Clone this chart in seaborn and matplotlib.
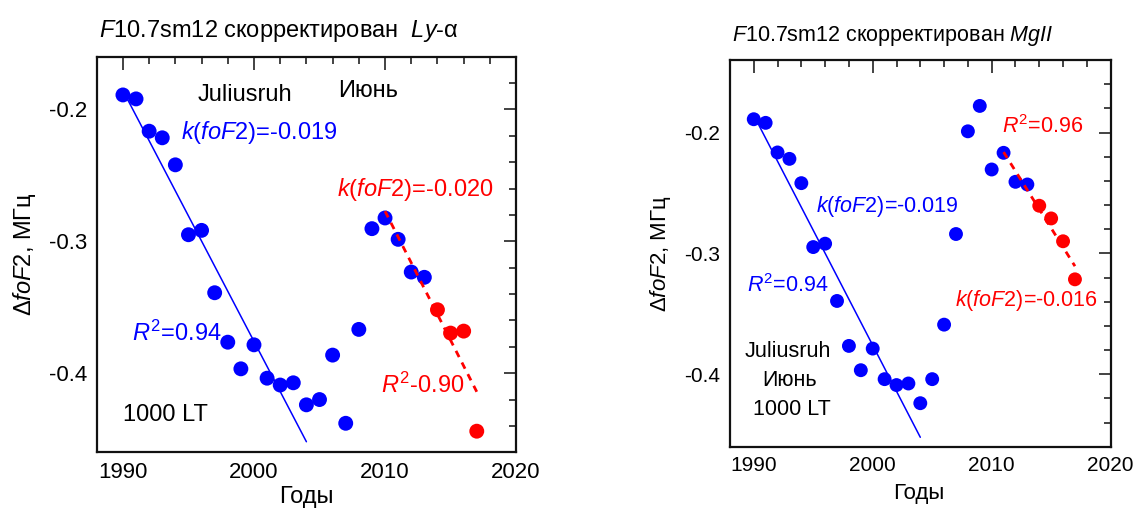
import numpy as np
import pandas as pd
import matplotlib.pyplot as plt
import seaborn as sns
from matplotlib.ticker import MultipleLocator

sns.set_style("white")
plt.rcParams["font.family"] = ["Liberation Sans", "DejaVu Sans"]
plt.rcParams["mathtext.fontset"] = "custom"
plt.rcParams["mathtext.rm"] = "Liberation Sans"
plt.rcParams["mathtext.it"] = "Liberation Sans:italic"
plt.rcParams["text.color"] = "black"
plt.rcParams["axes.labelcolor"] = "black"
plt.rcParams["xtick.color"] = "black"
plt.rcParams["ytick.color"] = "black"

BLUE = "#0000ff"
RED = "#ff0000"

# data
years = [1990, 1991, 1992, 1993, 1994, 1995, 1996, 1997, 1998, 1999,
         2000, 2001, 2002, 2003, 2004, 2005, 2006, 2007, 2008, 2009,
         2010, 2011, 2012, 2013, 2014, 2015, 2016, 2017]
dfof2_ly_alpha = [-0.189, -0.192, -0.2165, -0.2215, -0.242, -0.295, -0.2917, -0.339, -0.3765, -0.3967,
                  -0.3785, -0.4038, -0.409, -0.4073, -0.424, -0.420, -0.3863, -0.438, -0.3668, -0.2904,
                  -0.2823, -0.2985, -0.3233, -0.3273, -0.3519, -0.3696, -0.3681, -0.444]
dfof2_mgii = [-0.189, -0.192, -0.2165, -0.2218, -0.2419, -0.2948, -0.292, -0.3394, -0.3766, -0.3967,
              -0.3788, -0.4041, -0.409, -0.4077, -0.424, -0.4041, -0.359, -0.284, -0.199, -0.178,
              -0.2306, -0.2168, -0.2408, -0.243, -0.2606, -0.2711, -0.290, -0.3215]
red_years = [2014, 2015, 2016, 2017]

blue_fit = (1990, 2004)
red_fit_ly = (2010, 2017)
red_fit_mg = (2011, 2017)


def draw_panel(ax, values, red_fit, ylim, fs, msize):
    df = pd.DataFrame({"year": years, "dfof2": values})
    df["group"] = np.where(df["year"].isin(red_years), "red", "blue")

    sub = df[(df["year"] >= blue_fit[0]) & (df["year"] <= blue_fit[1])]
    sns.regplot(data=sub, x="year", y="dfof2", scatter=False, ci=None, truncate=True,
                color=BLUE, line_kws=dict(lw=1.1, zorder=1), ax=ax)
    sns.scatterplot(data=df, x="year", y="dfof2", hue="group",
                    palette={"blue": BLUE, "red": RED}, s=msize, linewidth=0,
                    legend=False, zorder=2, ax=ax)
    sub = df[(df["year"] >= red_fit[0]) & (df["year"] <= red_fit[1])]
    sns.regplot(data=sub, x="year", y="dfof2", scatter=False, ci=None, truncate=True,
                color=RED, line_kws=dict(lw=2, dashes=(2.5, 2.2), zorder=3), ax=ax)

    ax.set_xlim(1988, 2020)
    ax.set_ylim(*ylim)
    ax.xaxis.set_major_locator(MultipleLocator(10))
    ax.xaxis.set_minor_locator(MultipleLocator(2))
    ax.yaxis.set_major_locator(MultipleLocator(0.1))
    ax.yaxis.set_minor_locator(MultipleLocator(0.02))
    ax.yaxis.set_major_formatter(lambda v, p: f"{v:.1f}")
    ax.tick_params(which="both", direction="in", top=True, right=True, labelsize=fs,
                   width=1.2, color="#222222")
    ax.tick_params(which="major", length=9, pad=7)
    ax.tick_params(which="minor", length=5)
    for sp in ax.spines.values():
        sp.set_linewidth(1.6)
        sp.set_color("#111111")
    ax.set_xlabel("Годы", fontsize=fs + 1)
    ax.set_ylabel(r"$\Delta$$\mathit{foF}$2, МГц", fontsize=fs + 1)


fig = plt.figure(figsize=(11.34, 5.09), dpi=100)
ax1 = fig.add_axes([0.0853, 0.1114, 0.3698, 0.7772])
ax2 = fig.add_axes([0.6437, 0.1224, 0.3357, 0.7597])

# left panel: Ly-alpha
draw_panel(ax1, dfof2_ly_alpha, red_fit_ly, (-0.46, -0.16), 16, 115)
ax1.set_title(r"$\mathit{F}$10.7sm12 скорректирован  $\mathit{Ly}$-$\mathrm{\alpha}$",
              loc="left", fontsize=17, pad=14, x=0.005)
ax1.xaxis.set_label_coords(0.5, -0.085)
ax1.yaxis.set_label_coords(-0.14, 0.5)
ax1.text(1999.3, -0.189, "Juliusruh", fontsize=17, ha="center", va="center")
ax1.text(2008.7, -0.186, "Июнь", fontsize=17, ha="center", va="center")
ax1.text(1994.4, -0.2177, r"$\mathit{k}$($\mathit{foF}$2)=-0.019", fontsize=17,
         color=BLUE, ha="left", va="center")
ax1.text(2006.3, -0.261, r"$\mathit{k}$($\mathit{foF}$2)=-0.020", fontsize=17,
         color=RED, ha="left", va="center")
ax1.text(1990.7, -0.370, r"$\mathit{R}^2$=0.94", fontsize=17, color=BLUE, ha="left", va="center")
ax1.text(2009.7, -0.409, r"$\mathit{R}^2$-0.90", fontsize=17, color=RED, ha="left", va="center")
ax1.text(1990.0, -0.4317, "1000 LT", fontsize=17, ha="left", va="center")

# right panel: MgII
draw_panel(ax2, dfof2_mgii, red_fit_mg, (-0.46, -0.14), 15, 100)
ax2.set_title(r"$\mathit{F}$10.7sm12 скорректирован $\mathit{MgII}$",
              loc="left", fontsize=15.5, pad=14, x=0.005)
ax2.xaxis.set_label_coords(0.496, -0.095)
ax2.yaxis.set_label_coords(-0.15, 0.5)
ax2.text(2010.9, -0.1953, r"$\mathit{R}^2$=0.96", fontsize=15.5, color=RED, ha="left", va="center")
ax2.text(1995.2, -0.2609, r"$\mathit{k}$($\mathit{foF}$2)=-0.019", fontsize=15.5,
         color=BLUE, ha="left", va="center")
ax2.text(1989.4, -0.327, r"$\mathit{R}^2$=0.94", fontsize=15.5, color=BLUE, ha="left", va="center")
ax2.text(2006.9, -0.339, r"$\mathit{k}$($\mathit{foF}$2)=-0.016", fontsize=15.5,
         color=RED, ha="left", va="center")
ax2.text(1992.9, -0.381, "Juliusruh", fontsize=15.5, ha="center", va="center")
ax2.text(1993.0, -0.4055, "Июнь", fontsize=15.5, ha="center", va="center")
ax2.text(1993.2, -0.4295, "1000 LT", fontsize=15.5, ha="center", va="center")

fig.savefig("out.png", dpi=100)
